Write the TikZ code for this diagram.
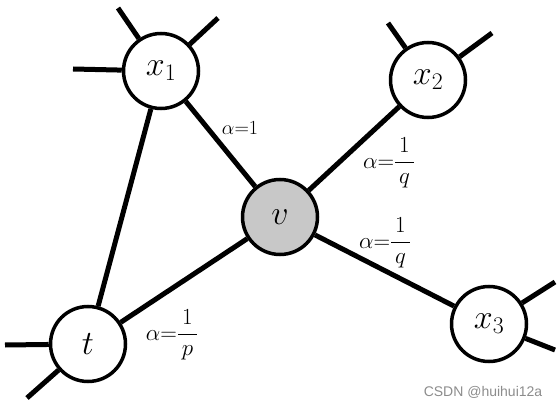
\RequirePackage{fix-cm}
\documentclass[tikz,border=0pt]{standalone}
\usepackage{amsmath}
\usepackage{fontspec}
\newfontfamily\markfont{Liberation Sans}
\definecolor{vgray}{RGB}{200,200,200}
\begin{document}
\begin{tikzpicture}[x=1pt, y=-1pt,
    vertex/.style={circle, draw, line width=3.5pt, fill=white, minimum size=75pt, inner sep=0pt, font=\fontsize{34}{40}\selectfont},
    link/.style={line width=5pt},
    weight/.style={inner sep=0pt, font=\fontsize{20}{24}\selectfont}]
            \useasboundingbox (0,0) rectangle (559,406);

            % Nodes
            \node[vertex] (x1) at (161,71) {$x_1$};
            \node[vertex] (x2) at (428,80) {$x_2$};
            \node[vertex, fill=vgray] (v) at (280,217) {$v$};
            \node[vertex] (t) at (88,344) {$t$};
            \node[vertex] (x3) at (489,324) {$x_3$};

            % loose ends
            \coordinate (x1a) at (118,8);
            \coordinate (x1b) at (218,18);
            \coordinate (x1c) at (73,69);
            \coordinate (x2a) at (388,23);
            \coordinate (x2b) at (492,33);
            \coordinate (ta) at (5,345);
            \coordinate (tb) at (27,398);
            \coordinate (x3a) at (555,282);
            \coordinate (x3b) at (555,350);
            \foreach \n/\e in {x1/x1a, x1/x1b, x1/x1c, x2/x2a, x2/x2b, t/ta, t/tb, x3/x3a, x3/x3b} {
                \draw[link] (\n) -- (\e);
            }

            % Edges
            \draw[link] (x1) -- (v);
            \draw[link] (x2) -- (v);
            \draw[link] (v) -- (x3);
            \draw[link] (v) -- (t);
            \draw[link] (x1) -- (t);

            % Weights
            \node[weight] (w1) at (240,128) {$\alpha{=}1$};
            \node[weight, font=\fontsize{23}{26}\selectfont] (w2) at (389,163) {$\alpha{=}\dfrac{\,1\,}{\,q\,}$};
            \node[weight, font=\fontsize{23}{26}\selectfont] (w3) at (385,243) {$\alpha{=}\dfrac{\,1\,}{\,q\,}$};
            \node[weight, font=\fontsize{23}{26}\selectfont] (w4) at (172,335) {$\alpha{=}\dfrac{\,1\,}{\,p\,}$};

            \node[inner sep=0pt, text=black!45, font=\markfont\fontsize{14}{16}\selectfont] (mark) at (483,392) {CSDN @huihui12a};
        \end{tikzpicture}
\end{document}
